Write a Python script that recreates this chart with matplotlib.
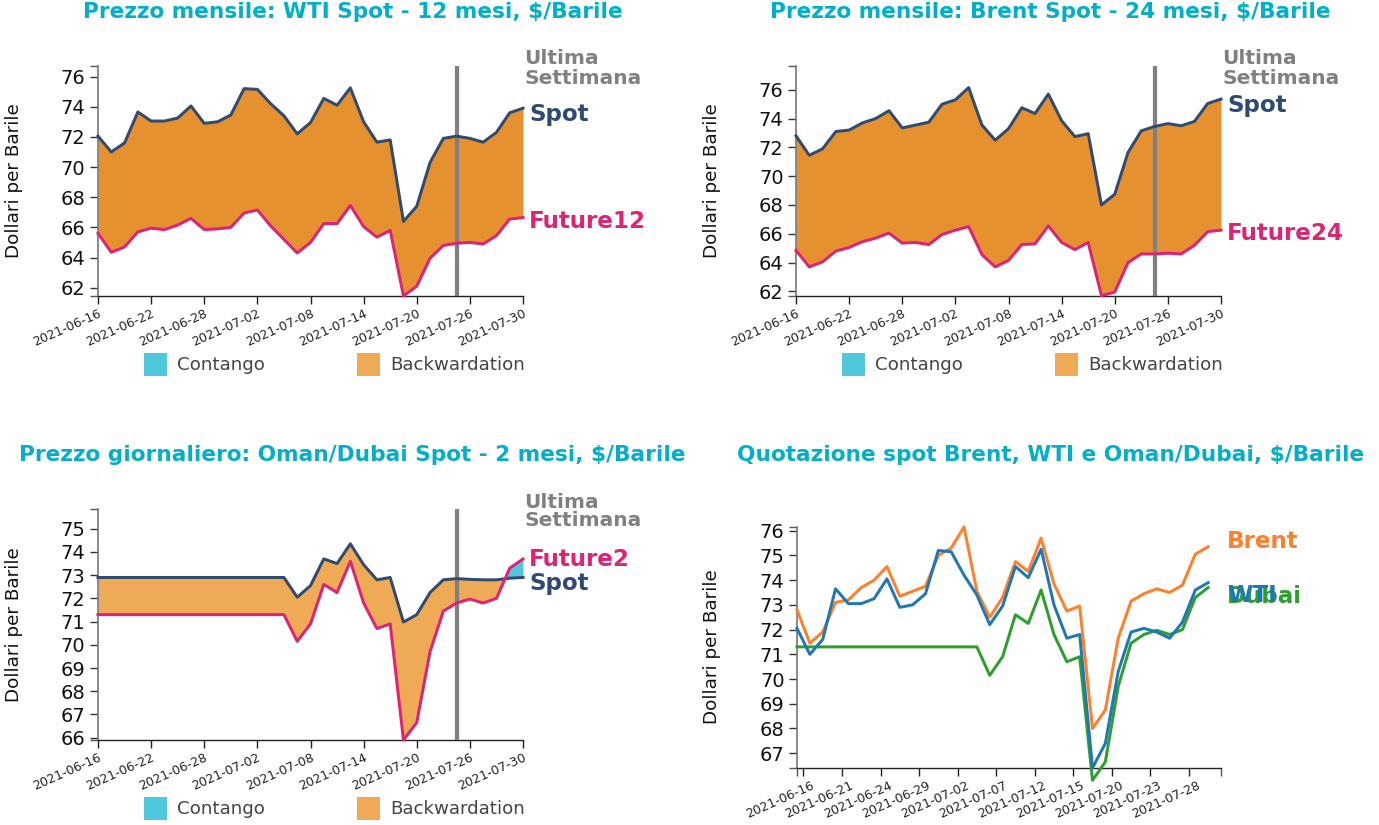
import numpy as np
import matplotlib
matplotlib.use("Agg")
import matplotlib.pyplot as plt
from matplotlib.patches import Rectangle
from matplotlib.transforms import ScaledTranslation

W, H = 1379, 825
DATES_EVERY4 = ["2021-06-16", "2021-06-22", "2021-06-28", "2021-07-02", "2021-07-08",
                "2021-07-14", "2021-07-20", "2021-07-26", "2021-07-30"]
DATES_EVERY3 = ["2021-06-16", "2021-06-21", "2021-06-24", "2021-06-29", "2021-07-02", "2021-07-07",
                "2021-07-12", "2021-07-15", "2021-07-20", "2021-07-23", "2021-07-28"]

wti_spot = [72.05, 71.0, 71.6, 73.65, 73.05, 73.05, 73.25, 74.05, 72.9, 73.0, 73.45, 75.2, 75.15, 74.2, 73.4,
            72.2, 72.95, 74.55, 74.1, 75.25, 73.0, 71.65, 71.8, 66.4, 67.4, 70.3, 71.9, 72.05, 71.9, 71.65,
            72.3, 73.6, 73.9]
wti_future12 = [65.6, 64.35, 64.7, 65.7, 65.95, 65.85, 66.15, 66.6, 65.85, 65.9, 66.0, 66.95, 67.15, 66.1, 65.2,
                64.3, 65.0, 66.25, 66.25, 67.45, 66.05, 65.35, 65.8, 61.45, 62.1, 63.95, 64.8, 64.95, 65.0, 64.9,
                65.45, 66.55, 66.65]
brent_spot = [72.8, 71.45, 71.9, 73.1, 73.2, 73.7, 74.0, 74.55, 73.35, 73.55, 73.75, 75.0, 75.3, 76.15, 73.55,
              72.5, 73.3, 74.75, 74.35, 75.7, 73.85, 72.75, 72.95, 68.0, 68.75, 71.65, 73.15, 73.45, 73.65, 73.5,
              73.8, 75.05, 75.35]
brent_future24 = [64.85, 63.7, 64.05, 64.8, 65.05, 65.45, 65.7, 66.05, 65.35, 65.4, 65.25, 65.95, 66.25, 66.5, 64.55,
                  63.7, 64.15, 65.25, 65.3, 66.55, 65.4, 64.9, 65.4, 61.7, 61.95, 64.0, 64.6, 64.6, 64.65, 64.6,
                  65.2, 66.15, 66.25]
dubai_spot = [72.9] * 15 + [72.05, 72.55, 73.7, 73.5, 74.35, 73.45, 72.8, 72.9, 70.98, 71.3, 72.25, 72.8, 72.85,
                            72.82, 72.8, 72.8, 72.87, 72.9]
dubai_future2 = [71.3] * 15 + [70.15, 70.9, 72.6, 72.25, 73.6, 71.8, 70.7, 70.9, 65.9, 66.65, 69.7, 71.45, 71.8,
                               71.97, 71.8, 72.0, 73.3, 73.7]

NAVY, PINK, CYAN = "#2f4b73", "#de2276", "#00afc9"
GREY = "#808080"
TEXT = "#444444"
px = 0.72  # points per pixel at 100 dpi
LINE_W = 3.0 * px

plt.rcParams["font.family"] = "DejaVu Sans"
plt.rcParams["lines.solid_joinstyle"] = "round"
fig = plt.figure(figsize=(W / 100, H / 100), dpi=100)


def make_axes(l, t, r, b):
    ax = fig.add_axes([l / W, 1 - b / H, (r - l) / W, (b - t) / H])
    for s in ("top", "right"):
        ax.spines[s].set_visible(False)
    ax.spines["left"].set_linewidth(1.2)
    ax.spines["left"].set_color("#777777")
    ax.spines["bottom"].set_linewidth(1.0)
    ax.spines["bottom"].set_color("#222222")
    ax.tick_params(axis="y", labelsize=19.5 * px, length=6, width=1, pad=3, labelcolor="#111111", color="#333333")
    ax.tick_params(axis="x", labelsize=12.6 * px, length=6, width=1, pad=2, labelcolor="#222222", color="#222222")
    ax.tick_params(which="minor", length=6, width=1, color="#555555")
    ax.patch.set_alpha(0)
    return ax


def set_xlabels(ax, labels, dx=0.0):
    for lab in ax.set_xticklabels(labels, rotation=24, ha="right", rotation_mode="anchor"):
        if dx:
            lab.set_transform(lab.get_transform() + ScaledTranslation(dx / 100, 0, fig.dpi_scale_trans))


def spread_panel(box, ylim, yticks, spot, fut, futname, title, title_x, back, yfut_off, yspot_off):
    l, t, r, b = box
    ax = make_axes(l, t, r, b)
    xd = np.arange(len(spot))
    s = np.asarray(spot, float)
    f = np.asarray(fut, float)
    ax.fill_between(xd, s, f, where=s >= f, interpolate=True, color=back, lw=0)
    ax.fill_between(xd, s, f, where=f >= s, interpolate=True, color="#4fc8dc", lw=0)
    ax.axvline(27, color=GREY, lw=4.2 * px, zorder=3)
    ax.plot(xd, s, color=NAVY, lw=LINE_W, clip_on=False, zorder=4)
    ax.plot(xd, f, color=PINK, lw=LINE_W, clip_on=False, zorder=4)
    ax.set_xlim(0, 32)
    ax.set_ylim(*ylim)
    ax.set_yticks(yticks)
    ax.set_yticks(list(ylim), minor=True)
    ax.set_xticks(np.arange(0, 33, 4))
    set_xlabels(ax, DATES_EVERY4)
    ax.annotate("Spot", (32, spot[-1]), xytext=(6 * px, -yspot_off * px), textcoords="offset points",
                color=NAVY, fontweight="bold", fontsize=23 * px, va="center", annotation_clip=False)
    ax.annotate(futname, (32, fut[-1]), xytext=(6 * px, -yfut_off * px), textcoords="offset points",
                color=PINK, fontweight="bold", fontsize=23 * px, va="center", annotation_clip=False)
    fig.text((r + 1) / W, 1 - (t - 7) / H, "Ultima", color=GREY, fontweight="bold", fontsize=20.2 * px, va="center")
    fig.text((r + 1) / W, 1 - (t + 12) / H, "Settimana", color=GREY, fontweight="bold", fontsize=20.2 * px, va="center")
    fig.text((14 + l - 98) / W, 1 - (t + b) / 2 / H, "Dollari per Barile", rotation=90, color="#111111",
             fontsize=18.4 * px, va="center", ha="center")
    fig.text(title_x / W, 1 - (t - 54) / H, title, color=CYAN, fontweight="bold", fontsize=21.6 * px, va="center")
    ly = b + 57
    for x0, col, name in ((l + 46, "#4fc8dc", "Contango"), (l + 259, "#eeaa55", "Backwardation")):
        fig.patches.append(Rectangle((x0 / W, 1 - (ly + 23) / H), 23 / W, 23 / H, transform=fig.transFigure,
                                     facecolor=col, edgecolor="none"))
        fig.text((x0 + 33) / W, 1 - (ly + 11.5) / H, name, color=TEXT, fontsize=18.3 * px, va="center")
    return ax


spread_panel((98, 66, 523, 296), (61.45, 76.7), np.arange(62, 77, 2), wti_spot, wti_future12, "Future12",
             "Prezzo mensile: WTI Spot - 12 mesi, $/Barile", 83, "#e69130", 4, 6)
spread_panel((796, 66, 1221, 296), (61.68, 77.65), np.arange(62, 77, 2), brent_spot, brent_future24, "Future24",
             "Prezzo mensile: Brent Spot - 24 mesi, $/Barile", 770, "#e69130", 3, 6)
spread_panel((98, 509, 523, 740), (65.9, 75.85), np.arange(66, 76), dubai_spot, dubai_future2, "Future2",
             "Prezzo giornaliero: Oman/Dubai Spot - 2 mesi, $/Barile", 19, "#eeaa55", 1, 6)

# Fourth panel
ax = make_axes(797, 527, 1221, 768)
for vals, col, name, off in ((brent_spot, "#ff7f2a", "Brent", -5), (dubai_future2, "#2ca02c", "Dubai", 9),
                             (wti_spot, "#1f77b4", "WTI", 13)):
    ax.plot(np.arange(len(vals)), vals, color=col, lw=LINE_W, clip_on=False, zorder=3)
    ax.annotate(name, (32, vals[-1]), xytext=(19 * px, -off * px), textcoords="offset points", color=col,
                fontweight="bold", fontsize=23 * px, va="center", annotation_clip=False)
ax.set_xlim(0, 33)
ax.set_ylim(66.4, 76.15)
ax.set_yticks(np.arange(67, 77))
ax.set_yticks([66.4, 76.15], minor=True)
ax.set_xticks(np.arange(0, 33, 3) + 0.5)
ax.set_xticks([0, 33], minor=True)
set_xlabels(ax, DATES_EVERY3, dx=8)
fig.text(712 / W, 1 - 647 / H, "Dollari per Barile", rotation=90, color="#111111", fontsize=18.4 * px,
         va="center", ha="center")
fig.text(737 / W, 1 - 455 / H, "Quotazione spot Brent, WTI e Oman/Dubai, $/Barile", color=CYAN,
         fontweight="bold", fontsize=21.6 * px, va="center")

fig.savefig("out.png", dpi=100)
